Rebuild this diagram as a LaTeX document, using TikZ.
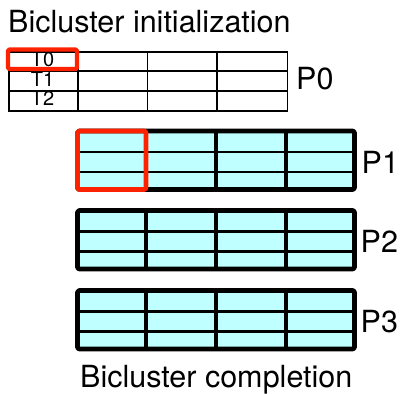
\documentclass[tikz,border=0pt]{standalone}
\usepackage{fontspec}
\setmainfont{TeX Gyre Heros}
\definecolor{cellfill}{RGB}{192,255,255}
\definecolor{markred}{RGB}{255,34,0}
\tikzset{
  big text/.style={inner sep=0pt, anchor=base west, font=\fontsize{30.5}{32}\selectfont},
  row text/.style={inner sep=0pt, anchor=base, font=\fontsize{20}{22}\selectfont},
  init grid/.style={line width=1.8pt},
  done box/.style={line width=4.6pt, line join=round, rounded corners=1.5pt},
  done col/.style={line width=4.6pt},
  done row/.style={line width=2.2pt},
  mark box/.style={draw=markred, line join=round, rounded corners=1.5pt},
}
\begin{document}
\begin{tikzpicture}[x=1pt,y=-1pt]
  \useasboundingbox (0,0) rectangle (405,394);

  % initial bicluster: one plain table with three labelled rows
  \node[big text] (title-init) at (8,32) {Bicluster initialization};
  \node[draw, init grid, anchor=north west, inner sep=0pt,
        minimum width=278.5pt, minimum height=59pt] (p0) at (8,51) {};
  \foreach \x in {78,147.5,217}
    \draw[init grid] (\x,51) -- (\x,110);
  \foreach \y in {71,91}
    \draw[init grid] (8,\y) -- (286.5,\y);
  \node[row text] (t0) at (42.5,66.5) {T0};
  \node[row text] (t1) at (42.5,86) {T1};
  \node[row text] (t2) at (42.5,105.5) {T2};
  \draw[mark box, line width=4.4pt] (8,49.5) rectangle (77,69);
  \node[big text] (lbl-p0) at (296,89) {P0};

  % completed biclusters: three filled tables
  \foreach \top/\name/\lx in {131/P1/361.5, 210.5/P2/360.5, 290.5/P3/360.5} {
    \fill[cellfill] (77.5,\top) rectangle (354.5,\top+58.5);
    \foreach \dy in {21,41}
      \draw[done row] (77.5,\top+\dy) -- (354.5,\top+\dy);
    \foreach \x in {146,216,286}
      \draw[done col] (\x,\top) -- (\x,\top+58.5);
    \draw[done box] (77.5,\top) rectangle (354.5,\top+58.5);
    \node[big text] (lbl-\name) at (\lx,\top+42) {\name};
  }
  \draw[mark box, line width=4.6pt] (77.5,131) rectangle (146,189.5);

  \node[big text] (title-done) at (80,387.5) {Bicluster completion};
\end{tikzpicture}
\end{document}
